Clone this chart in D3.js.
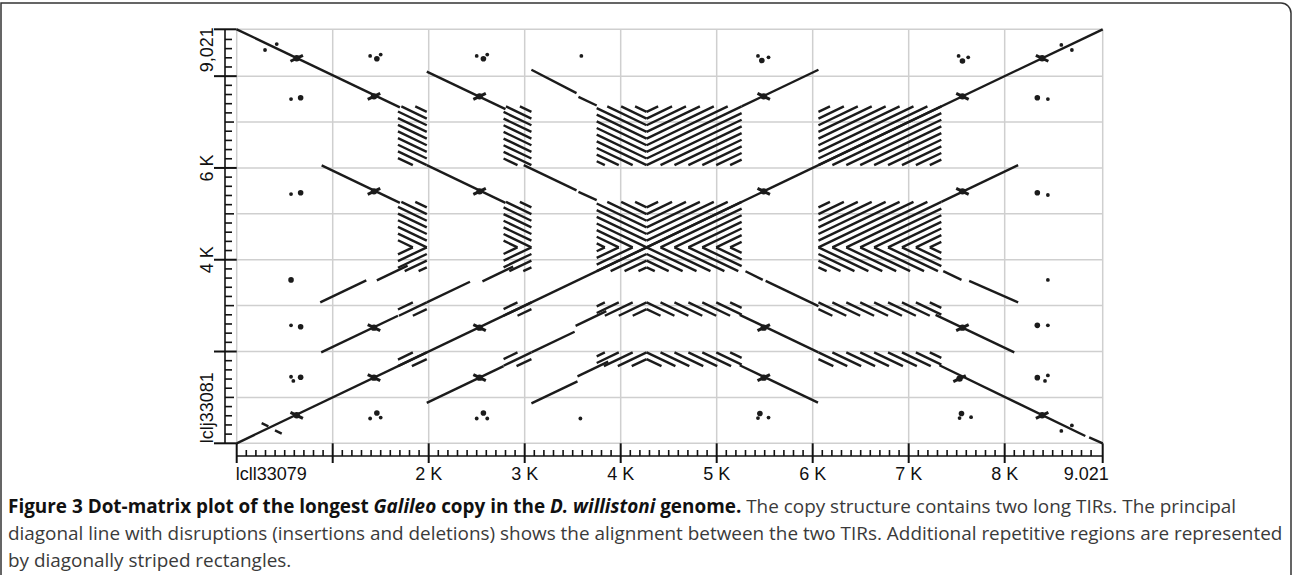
<!DOCTYPE html>
<html>
<head>
<meta charset="utf-8">
<script src="https://cdn.jsdelivr.net/npm/d3@7"></script>
<style>
  body { margin: 0; background: #fff; }
  svg { display: block; }
</style>
</head>
<body>
<svg id="chart" width="1293" height="575"></svg>
<script>
// sequence length (bp) of both copies
const seqLength = 9021;
const gridValues = [0, 1000, 2000, 3000, 4000, 5000, 6000, 7000, 8000, 9021];
const xLabels = [[0, 'lcll33079'], [2000, '2 K'], [3000, '3 K'], [4000, '4 K'], [5000, '5 K'],
  [6000, '6 K'], [7000, '7 K'], [8000, '8 K'], [9021, '9.021']];
const yLabels = [[0, 'lclj33081'], [4000, '4 K'], [6000, '6 K'], [9021, '9,021']];

// tandem arrays: start, end, strand (same repeat unit)
const tandemArrays = [
  [1680, 1980, -1],
  [2780, 3070, -1],
  [3750, 4270, -1],
  [4270, 5260, 1],
  [6060, 7340, 1],
];
const repeatUnit = 145;
const minMatch = 60;

// long alignments, [x0, y0, x1, y1] in bp
const directHits = [
  [0, 0, 9021, 9021],
  [880, 1980, 1680, 2780],
  [1980, 880, 2780, 1680],
  [870, 3070, 1350, 3550],
  [1460, 3550, 1780, 3870],
  [3070, 870, 3550, 1350],
  [3550, 1460, 3870, 1780],
  [1980, 3070, 2430, 3520],
  [2560, 3530, 2880, 3850],
  [3070, 1980, 3520, 2430],
  [3530, 2560, 3850, 2880],
  [5260, 7340, 6060, 8140],
  [7340, 5260, 8140, 6060],
];
const invertedHits = [
  [0, 9021, 1700, 7320],
  [1980, 8100, 2800, 7280],
  [3070, 8140, 3540, 7630],
  [3560, 7550, 3750, 7360],
  [885, 6055, 1700, 5240],
  [1980, 6060, 2800, 5240],
  [2990, 6060, 3540, 5510],
  [3560, 5480, 3750, 5300],
  [7320, 1700, 8840, 160],
  [8880, 130, 9021, 0],
  [7280, 2800, 8100, 1980],
  [7360, 3750, 7550, 3560],
  [7630, 3540, 8140, 3070],
  [5240, 1700, 6055, 885],
  [5240, 2800, 6060, 1980],
  [5300, 3750, 5480, 3560],
  [5510, 3540, 6060, 2990],
];

// short palindrome hits lying on alignments: x, y, direction of the tick
const crossMarks = [
  [625, 8390, 1], [1430, 7560, 1], [2530, 7560, 1], [1430, 5490, 1], [2530, 5490, 1],
  [5490, 7560, -1], [7560, 7560, -1], [8390, 8390, -1], [5490, 5490, -1], [7560, 5490, -1],
  [1430, 2520, -1], [2530, 2520, -1], [1430, 1430, -1], [2530, 1430, -1], [625, 610, -1],
  [5490, 2520, 1], [7560, 2520, 1], [5490, 1430, 1], [7530, 1410, 1], [8390, 610, 1],
];

// isolated dots: x, y, size (1 small, 2 large)
const dotMarks = [
  [295, 8570, 1], [417, 8700, 1],
  [1390, 8440, 1], [1460, 8380, 2], [1500, 8470, 1],
  [2500, 8440, 1], [2570, 8380, 2], [2610, 8470, 1],
  [3590, 8440, 1],
  [5430, 8440, 1], [5470, 8340, 2], [5540, 8410, 1],
  [7520, 8440, 1], [7560, 8330, 2], [7620, 8410, 1],
  [8590, 8680, 1], [8700, 8570, 1],
  [566, 7500, 1], [666, 7530, 2], [8340, 7530, 2], [8450, 7500, 1],
  [566, 5430, 1], [666, 5460, 2], [8340, 5460, 2], [8450, 5410, 1],
  [566, 3560, 2], [8450, 3560, 1],
  [566, 2570, 1], [666, 2540, 2], [8340, 2570, 2], [8450, 2570, 1],
  [566, 1450, 1], [590, 1360, 1], [666, 1440, 2], [8340, 1430, 2], [8420, 1360, 1], [8450, 1480, 1],
  [1390, 540, 1], [1460, 660, 2], [1500, 560, 1],
  [2500, 540, 1], [2570, 660, 2], [2610, 540, 1],
  [3580, 540, 1],
  [5430, 550, 1], [5450, 650, 2], [5540, 560, 1],
  [7530, 550, 1], [7550, 650, 2], [7650, 570, 1],
  [8590, 270, 1], [8700, 390, 1],
];
const dashMarks = [[295, 405], [434, 246]];

const captionLines = [
  [
    ['Figure 3 Dot-matrix plot of the longest ', 'b'], ['Galileo', 'bi'], [' copy in the ', 'b'],
    ['D. willistoni', 'bi'], [' genome.', 'b'],
    [' The copy structure contains two long TIRs. The principal', 'r'],
  ],
  [['diagonal line with disruptions (insertions and deletions) shows the alignment between the two TIRs. Additional repetitive regions are represented', 'r']],
  [['by diagonally striped rectangles.', 'r']],
];

const svg = d3.select('#chart');
const x = d3.scaleLinear().domain([0, seqLength]).range([236.7, 1102.7]);
const y = d3.scaleLinear().domain([0, seqLength]).range([443.3, 29.3]);
const ink = '#1b1b1b';

// frame
svg.append('path')
  .attr('d', 'M1,575 V3 H1281 A10,10 0 0 1 1291,13 V575')
  .attr('fill', 'none')
  .attr('stroke', '#333')
  .attr('stroke-width', 1.5);

// grid
const grid = svg.append('g').attr('stroke', '#cfcfcf').attr('stroke-width', 1.5);
grid.selectAll('.gx').data(gridValues).enter().append('line')
  .attr('x1', (d) => x(d)).attr('x2', (d) => x(d))
  .attr('y1', y(0)).attr('y2', y(seqLength));
grid.selectAll('.gy').data(gridValues).enter().append('line')
  .attr('y1', (d) => y(d)).attr('y2', (d) => y(d))
  .attr('x1', x(0)).attr('x2', x(seqLength));

// tandem repeat stripes
const stripes = [];
tandemArrays.forEach(([si, ei, oi]) => {
  tandemArrays.forEach(([sj, ej, oj]) => {
    if (oi === oj) {
      const c0 = oi === 1 ? sj - si : ej - ei;
      const kMin = Math.ceil((sj - ei - c0) / repeatUnit);
      const kMax = Math.floor((ej - si - c0) / repeatUnit);
      for (let k = kMin; k <= kMax; k++) {
        const c = c0 + k * repeatUnit;
        const a = Math.max(si, sj - c);
        const b = Math.min(ei, ej - c);
        if (b - a > minMatch) stripes.push([a, a + c, b, b + c]);
      }
    } else {
      const c0 = oi === 1 ? si + ej : ei + sj;
      const kMin = Math.ceil((si + sj - c0) / repeatUnit);
      const kMax = Math.floor((ei + ej - c0) / repeatUnit);
      for (let k = kMin; k <= kMax; k++) {
        const c = c0 + k * repeatUnit;
        const a = Math.max(si, c - ej);
        const b = Math.min(ei, c - sj);
        if (b - a > minMatch) stripes.push([a, c - a, b, c - b]);
      }
    }
  });
});

const plot = svg.append('g')
  .attr('stroke', ink)
  .attr('stroke-width', 2.4)
  .attr('stroke-linecap', 'butt');

plot.selectAll('.stripe')
  .data(stripes)
  .enter()
  .append('line')
  .attr('class', 'stripe')
  .attr('x1', (d) => x(d[0])).attr('y1', (d) => y(d[1]))
  .attr('x2', (d) => x(d[2])).attr('y2', (d) => y(d[3]));

plot.selectAll('.hit')
  .data(directHits.concat(invertedHits))
  .enter()
  .append('line')
  .attr('class', 'hit')
  .attr('x1', (d) => x(d[0])).attr('y1', (d) => y(d[1]))
  .attr('x2', (d) => x(d[2])).attr('y2', (d) => y(d[3]));

plot.selectAll('.cross')
  .data(crossMarks)
  .enter()
  .append('line')
  .attr('class', 'cross')
  .attr('stroke-width', 3)
  .attr('x1', (d) => x(d[0] - 65)).attr('y1', (d) => y(d[1] - d[2] * 65))
  .attr('x2', (d) => x(d[0] + 65)).attr('y2', (d) => y(d[1] + d[2] * 65));

svg.selectAll('.crossdot')
  .data(crossMarks)
  .enter()
  .append('circle')
  .attr('cx', (d) => x(d[0])).attr('cy', (d) => y(d[1]))
  .attr('r', 3.2)
  .attr('fill', ink);

svg.selectAll('.dot')
  .data(dotMarks)
  .enter()
  .append('circle')
  .attr('cx', (d) => x(d[0])).attr('cy', (d) => y(d[1]))
  .attr('r', (d) => (d[2] === 2 ? 2.8 : 1.9))
  .attr('fill', ink);

plot.selectAll('.dash')
  .data(dashMarks)
  .enter()
  .append('line')
  .attr('x1', (d) => x(d[0] - 35)).attr('y1', (d) => y(d[1] + 35))
  .attr('x2', (d) => x(d[0] + 35)).attr('y2', (d) => y(d[1] - 35));

// axes
const axis = svg.append('g').attr('stroke', '#111').attr('stroke-width', 1.6);
const xAxisY = 456;
const yAxisX = 225;
axis.append('line').attr('x1', x(0)).attr('x2', x(seqLength)).attr('y1', xAxisY).attr('y2', xAxisY);
axis.selectAll('.xminor').data(d3.range(100, seqLength, 100).filter((d) => d % 1000 !== 0))
  .enter().append('line')
  .attr('x1', (d) => x(d)).attr('x2', (d) => x(d))
  .attr('y1', xAxisY).attr('y2', xAxisY - 6);
axis.selectAll('.xmajor').data(gridValues).enter().append('line')
  .attr('stroke-width', 2)
  .attr('x1', (d) => x(d)).attr('x2', (d) => x(d))
  .attr('y1', y(0)).attr('y2', 463);

axis.append('line').attr('y1', y(0)).attr('y2', y(seqLength)).attr('x1', yAxisX).attr('x2', yAxisX);
axis.selectAll('.yminor').data(d3.range(200, seqLength, 200).filter((d) => d % 1000 !== 0))
  .enter().append('line')
  .attr('y1', (d) => y(d)).attr('y2', (d) => y(d))
  .attr('x1', yAxisX).attr('x2', yAxisX + 7);
axis.selectAll('.ymid').data([1000, 3000, 5000, 7000]).enter().append('line')
  .attr('y1', (d) => y(d)).attr('y2', (d) => y(d))
  .attr('x1', yAxisX).attr('x2', yAxisX + 9);
axis.selectAll('.ymajor').data([0, 2000, 4000, 6000, 8000, seqLength]).enter().append('line')
  .attr('stroke-width', 2)
  .attr('y1', (d) => y(d)).attr('y2', (d) => y(d))
  .attr('x1', 214).attr('x2', x(0));

const labelFont = 'Liberation Sans, Arial, sans-serif';
svg.selectAll('.xlab').data(xLabels).enter().append('text')
  .attr('x', (d) => (d[0] === seqLength ? x(d[0]) + 6 : x(d[0]) - (d[0] === 0 ? 1 : 0)))
  .attr('y', 480)
  .attr('text-anchor', (d) => (d[0] === 0 ? 'start' : d[0] === seqLength ? 'end' : 'middle'))
  .attr('font-family', labelFont)
  .attr('font-size', 18)
  .attr('fill', '#111')
  .text((d) => d[1]);

svg.selectAll('.ylab').data(yLabels).enter().append('text')
  .attr('transform', (d) => `translate(213,${d[0] === seqLength ? y(d[0]) - 2 : y(d[0])}) rotate(-90)`)
  .attr('text-anchor', (d) => (d[0] === 0 ? 'start' : d[0] === seqLength ? 'end' : 'middle'))
  .attr('font-family', labelFont)
  .attr('font-size', 18)
  .attr('fill', '#111')
  .text((d) => d[1]);

// caption, sized so the second line spans the figure width
const caption = svg.append('text')
  .attr('font-family', 'Open Sans, sans-serif')
  .attr('font-size', 16);
const rows = captionLines.map((line, i) => {
  const row = caption.append('tspan').attr('x', 8).attr('y', 513 + i * 27);
  line.forEach(([txt, style]) => {
    row.append('tspan')
      .attr('fill', style === 'r' ? '#3a3a3a' : '#111')
      .attr('font-weight', style === 'r' ? 400 : 700)
      .attr('font-style', style === 'bi' ? 'italic' : 'normal')
      .text(txt);
  });
  return row;
});
const w2 = rows[1].node().getComputedTextLength();
caption.attr('font-size', 16 * 1275 / w2);
</script>
</body>
</html>
